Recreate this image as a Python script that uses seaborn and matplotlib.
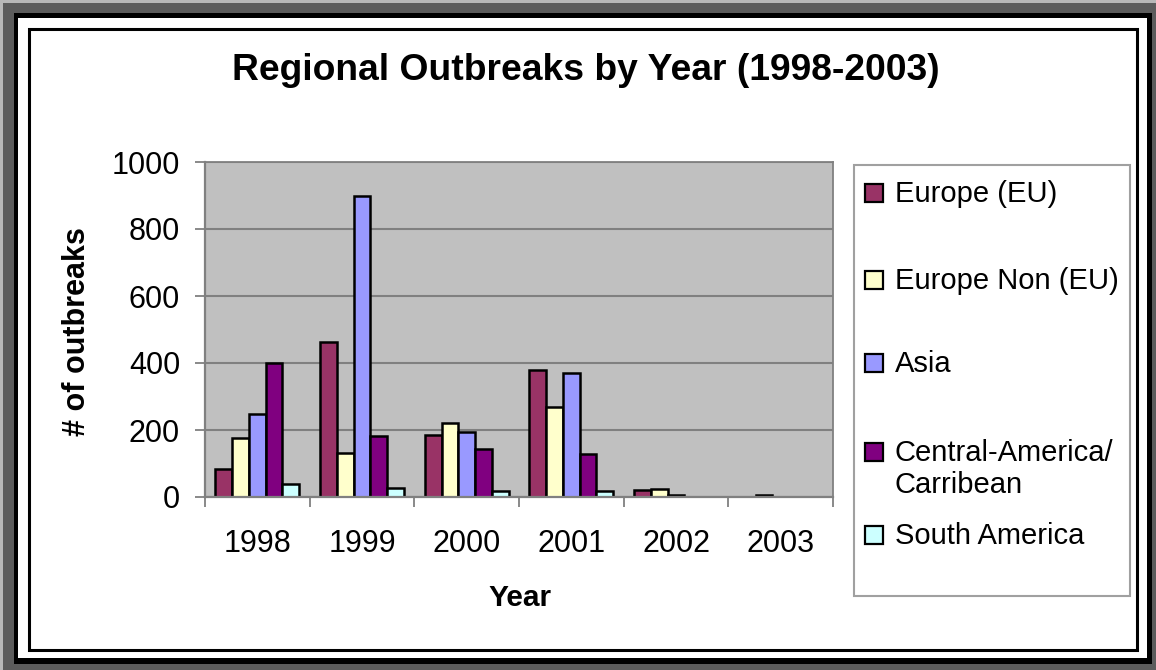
import matplotlib
matplotlib.use("Agg")
import matplotlib.pyplot as plt
from matplotlib.patches import Rectangle
import numpy as np
import pandas as pd
import seaborn as sns

sns.set_theme(style="whitegrid")
plt.rcParams['font.family'] = ['Liberation Sans', 'DejaVu Sans']
plt.rcParams['text.color'] = 'black'

years = ['1998', '1999', '2000', '2001', '2002', '2003']
regions = ['Europe (EU)', 'Europe Non (EU)', 'Asia', 'Central-America/\nCarribean', 'South America']
europe_eu = [85, 463, 186, 380, 20, 0]
europe_non_eu = [175, 132, 221, 269, 25, 6]
asia = [249, 899, 194, 370, 6, 0]
central_america = [401, 181, 144, 127, 0, 0]
south_america = [40, 27, 18, 18, 0, 0]
colors = ['#993366', '#FFFFCC', '#9999FF', '#800080', '#CCFFFF']

rows = []
for reg, vals in zip(regions, [europe_eu, europe_non_eu, asia, central_america, south_america]):
    for yr, v in zip(years, vals):
        rows.append({'Year': yr, 'Region': reg, 'Outbreaks': v})
df = pd.DataFrame(rows)

W, H = 1156, 670
fig = plt.figure(figsize=(W / 100, H / 100), dpi=100, facecolor='#5c5c5c')


def px_box(x0, y0, x1, y1):
    # pixel box (top-left origin) -> figure fraction rect
    return (x0 / W, 1 - y1 / H), (x1 - x0) / W, (y1 - y0) / H


# frame decoration
for (x0, y0, x1, y1), fc in [((0, 0, W, 3), '#b8b8b8'), ((0, 0, 3, H), '#b8b8b8'),
                             ((14, 13, 1152, 664), 'black'), ((18, 18, 1147, 658), 'white')]:
    xy, w, h = px_box(x0, y0, x1, y1)
    fig.patches.append(Rectangle(xy, w, h, transform=fig.transFigure, facecolor=fc,
                                 edgecolor='none', zorder=-10))
xy, w, h = px_box(29, 29, 1137, 650)
fig.patches.append(Rectangle(xy, w, h, transform=fig.transFigure, facecolor='none',
                             edgecolor='black', lw=2.2, zorder=-5))
# legend frame
xy, w, h = px_box(854, 165, 1130, 596)
fig.patches.append(Rectangle(xy, w, h, transform=fig.transFigure, facecolor='none',
                             edgecolor='#a0a0a0', lw=1.5, zorder=-5))

ax = fig.add_axes([205 / W, 1 - 497 / H, (833 - 205) / W, (497 - 162) / H])
ax.set_facecolor('#C0C0C0')
sns.barplot(data=df, x='Year', y='Outbreaks', hue='Region', hue_order=regions,
            palette=colors, edgecolor='black', linewidth=1.8, width=0.8,
            saturation=1, legend=False, ax=ax)

ax.set_ylim(0, 1000)
ax.set_yticks(np.arange(0, 1001, 200))
ax.set_xlim(-0.5, 5.5)
ax.grid(axis='y', color='#808080', lw=1.5)
ax.grid(axis='x', visible=False)
ax.set_axisbelow(True)
for s in ax.spines.values():
    s.set_color('#808080')
    s.set_linewidth(1.3)
ax.spines['left'].set_linewidth(1.6)
ax.spines['bottom'].set_linewidth(1.6)

ax.tick_params(axis='y', left=True, length=7, width=1.3, color='#808080',
               labelsize=22, pad=11, labelcolor='black')
ax.tick_params(axis='x', which='major', length=0, labelsize=22, pad=23, labelcolor='black')
ax.set_xticks(np.arange(-0.5, 5.6, 1), minor=True)
ax.tick_params(axis='x', which='minor', bottom=True, length=7, width=1.3, color='#808080')
ax.set_xlabel('')
ax.set_ylabel('')

fig.text(586 / W, 1 - 70 / H, 'Regional Outbreaks by Year (1998-2003)', fontsize=26.8,
         fontweight='bold', ha='center', va='center')
fig.text(77 / W, 1 - 332 / H, '# of outbreaks', fontsize=22, fontweight='bold',
         rotation=90, ha='center', va='center')
fig.text(520 / W, 1 - 598 / H, 'Year', fontsize=21.5, fontweight='bold',
         ha='center', va='center')

# legend, Excel-style placement of entries
entry_y = [193, 280, 363, 452, 535]
for reg, col, yc in zip(regions, colors, entry_y):
    xy, w, h = px_box(865, yc - 9, 883, yc + 9)
    fig.patches.append(Rectangle(xy, w, h, transform=fig.transFigure, facecolor=col,
                                 edgecolor='black', lw=1.6))
    fig.text(895 / W, 1 - (yc - 13) / H, reg, fontsize=21, ha='left', va='top',
             linespacing=1.2)

fig.savefig('out.png', dpi=100, facecolor=fig.get_facecolor())
